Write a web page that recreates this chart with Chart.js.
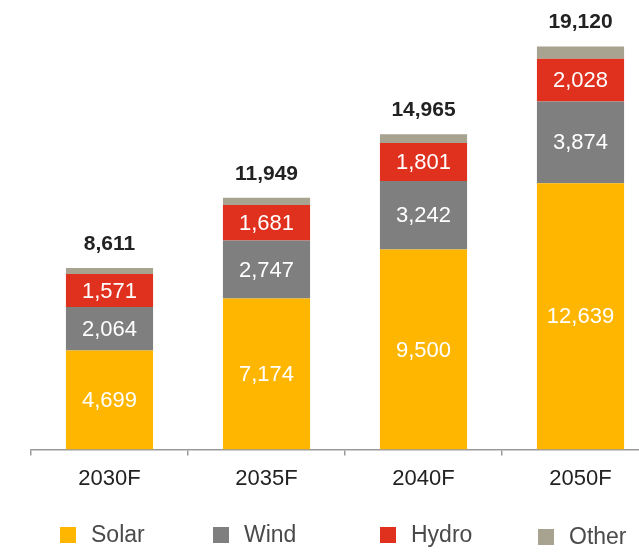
<!DOCTYPE html>
<html>
<head>
<meta charset="utf-8">
<script src="https://cdn.jsdelivr.net/npm/chart.js@4/dist/chart.umd.min.js"></script>
<style>
html,body{margin:0;padding:0;background:#fff;overflow:hidden;width:639px;height:552px;}
#c{display:block;}
</style>
</head>
<body>
<canvas id="c" width="680" height="552"></canvas>
<script>
const categories = ['2030F', '2035F', '2040F', '2050F'];
const solar = [4699, 7174, 9500, 12639];
const wind  = [2064, 2747, 3242, 3874];
const hydro = [1571, 1681, 1801, 2028];
const other = [277, 347, 422, 579];
const totals = [8611, 11949, 14965, 19120];
const seriesNames = ['Solar', 'Wind', 'Hydro', 'Other'];

const colors = {
  Solar: '#FFB600',
  Wind: '#7F7F7F',
  Hydro: '#E0301E',
  Other: '#A8A291'
};
const FONT = '"Liberation Sans", Arial, sans-serif';
const fmt = v => v.toLocaleString('en-US');

const labelPlugin = {
  id: 'labels',
  afterDatasetsDraw(chart) {
    const ctx = chart.ctx;
    ctx.save();
    ctx.textAlign = 'center';
    ctx.textBaseline = 'middle';
    // inside labels
    ctx.font = '22px ' + FONT;
    ctx.fillStyle = '#ffffff';
    for (let d = 0; d < 3; d++) {
      const meta = chart.getDatasetMeta(d);
      meta.data.forEach((bar, i) => {
        const v = chart.data.datasets[d].data[i];
        const yc = (bar.y + bar.base) / 2;
        ctx.fillText(fmt(v), bar.x, yc + 1);
      });
    }
    // totals
    ctx.font = 'bold 21px ' + FONT;
    ctx.fillStyle = '#222222';
    const top = chart.getDatasetMeta(3);
    top.data.forEach((bar, i) => {
      ctx.fillText(fmt(totals[i]), bar.x, bar.y - 24);
    });
    ctx.restore();
  }
};

const legendPlugin = {
  id: 'customLegend',
  afterDraw(chart, args, opts) {
    const ctx = chart.ctx;
    ctx.save();
    ctx.font = '23px ' + FONT;
    ctx.textBaseline = 'middle';
    ctx.textAlign = 'left';
    seriesNames.forEach((name, i) => {
      const x = opts.xs[i];
      const y = opts.ys[i];
      ctx.fillStyle = colors[name];
      ctx.fillRect(x, y - 8, 16, 16);
      ctx.fillStyle = '#4a4a4a';
      ctx.fillText(name, x + 31, y + 1);
    });
    ctx.restore();
  }
};

new Chart(document.getElementById('c'), {
  type: 'bar',
  data: {
    labels: categories,
    datasets: [
      { label: 'Solar', data: solar, backgroundColor: colors.Solar },
      { label: 'Wind', data: wind, backgroundColor: colors.Wind },
      { label: 'Hydro', data: hydro, backgroundColor: colors.Hydro },
      { label: 'Other', data: other, backgroundColor: colors.Other }
    ]
  },
  options: {
    responsive: false,
    animation: false,
    devicePixelRatio: 1,
    layout: { padding: { left: 31, right: 21, top: 7, bottom: 50 } },
    datasets: { bar: { categoryPercentage: 1, barPercentage: 0.555, borderWidth: 0 } },
    plugins: {
      legend: { display: false },
      tooltip: { enabled: false },
      customLegend: { xs: [60, 213, 380, 538], ys: [535, 535, 535, 537] }
    },
    scales: {
      x: {
        stacked: true,
        grid: { display: true, drawOnChartArea: false, drawTicks: true, tickLength: 6, color: '#9a9a9a', lineWidth: 1.5, offset: true },
        border: { display: true, color: '#9a9a9a', width: 1.5 },
        ticks: { color: '#222222', font: { family: FONT, size: 22 }, padding: 10, maxRotation: 0 }
      },
      y: {
        stacked: true,
        display: false,
        min: 0,
        max: 21000
      }
    }
  },
  plugins: [labelPlugin, legendPlugin]
});
</script>
</body>
</html>
